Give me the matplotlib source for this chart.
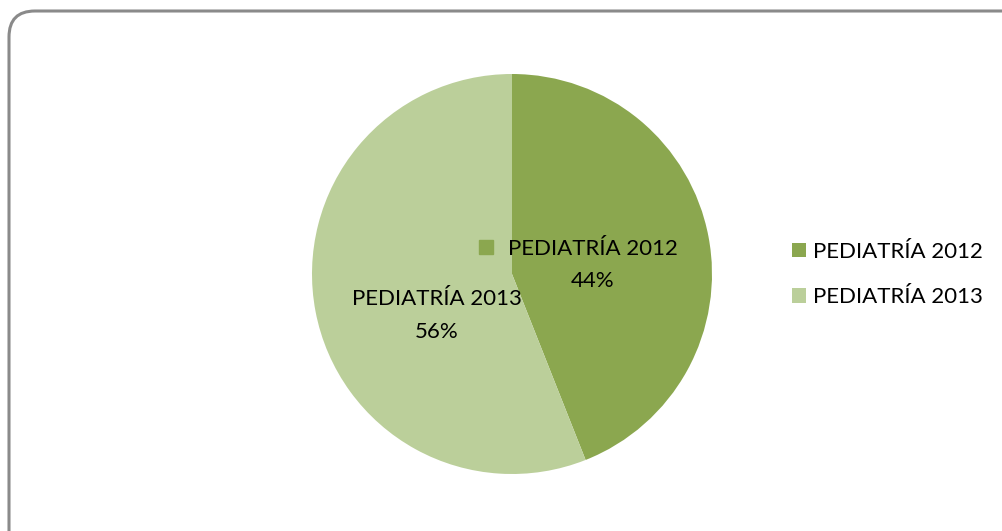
import matplotlib
matplotlib.use("Agg")
import matplotlib.pyplot as plt
from matplotlib.patches import FancyBboxPatch, Rectangle
from matplotlib.transforms import IdentityTransform

plt.rcParams['font.family'] = ['Lato', 'DejaVu Sans']

labels = ['PEDIATRÍA 2012', 'PEDIATRÍA 2013']
shares = [44, 56]
colors = ['#8ba74f', '#bbcf9a']

W, H = 1002, 531
fig = plt.figure(figsize=(W / 100, H / 100), dpi=100)

## rounded chart frame (pixel coords)
frame = FancyBboxPatch((9, -40), 1040, H - 11 + 40,
                       boxstyle="round,pad=0,rounding_size=26",
                       transform=IdentityTransform(), fill=False,
                       edgecolor='#8a8a8a', lw=2.2, zorder=0)
fig.patches.append(frame)

## the pie
ax = fig.add_axes([312 / W, (H - 474) / H, 400 / W, 400 / H])
wedges, _ = ax.pie(shares, colors=colors, startangle=90, counterclock=False,
                   radius=1.0)
ax.set_xlim(-1, 1)
ax.set_ylim(-1, 1)
ax.axis('off')

## data labels
fs = 16
ax.text(0.405, 0.045, '%s\n%d%%' % (labels[0], shares[0]), ha='center',
        va='center', fontsize=fs, linespacing=1.8)
ax.add_patch(Rectangle((-0.165, 0.10), 0.072, 0.072, color=colors[0], zorder=3))
ax.text(-0.375, -0.2075, '%s\n%d%%' % (labels[1], shares[1]), ha='center',
        va='center', fontsize=fs, linespacing=1.78)

## legend
fig.legend(wedges, labels, loc='center left',
           bbox_to_anchor=(772 / W, 1 - 274.5 / H), frameon=False,
           fontsize=fs, handlelength=0.63, handleheight=0.63,
           handletextpad=0.3, labelspacing=1.15)

plt.savefig('out.png', dpi=100)
